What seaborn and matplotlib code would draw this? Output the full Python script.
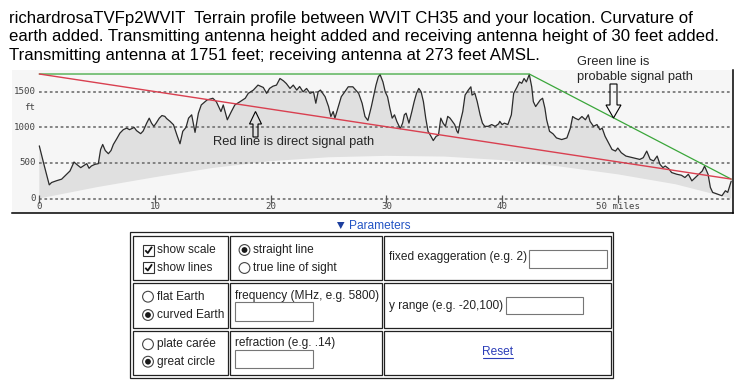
import numpy as np
import pandas as pd
import matplotlib
matplotlib.use("Agg")
import matplotlib.pyplot as plt
import seaborn as sns
from matplotlib.patches import Rectangle, Circle, Polygon

# ---------------- data ----------------
miles = [0.0, 0.4, 0.86, 1.06, 1.49, 1.93, 2.37, 2.65, 3.0, 3.23, 3.58, 3.8, 4.1, 4.3, 4.5, 4.8,
         5.1, 5.3, 5.48, 5.7, 5.97, 6.2, 6.4, 6.7, 6.97, 7.26, 7.55, 7.8, 8.2, 8.4, 8.76, 8.98,
         9.28, 9.5, 9.7, 9.9, 10.1, 10.37, 10.6, 10.85, 11.0, 11.3, 11.6, 11.9, 12.16, 12.4,
         12.68, 12.9, 13.17, 13.46, 13.75, 14.0, 14.5, 15.0, 15.3, 15.7, 15.9, 16.25, 16.6,
         16.9, 17.35, 17.8, 18.06, 18.5, 18.9, 19.36, 19.65, 19.9, 20.2, 20.5, 20.8, 21.1,
         21.35, 21.67, 21.95, 22.25, 22.5, 22.8, 23.1, 23.4, 23.7, 23.9, 24.1, 24.3, 24.7,
         25.0, 25.2, 25.4, 25.55, 25.85, 26.1, 26.4, 26.7, 27.1, 27.6, 27.9, 28.15, 28.4,
         28.7, 29.1, 29.3, 29.45, 29.7, 29.9, 30.1, 30.3, 30.5, 30.7, 30.9, 31.2, 31.4,
         31.55, 31.7, 31.95, 32.2, 32.4, 32.6, 32.8, 33.0, 33.2, 33.4, 33.6, 33.8, 34.05,
         34.3, 34.5, 34.7, 34.9, 35.1, 35.3, 35.5, 35.7, 35.9, 36.1, 36.2, 36.36, 36.6,
         36.8, 37.08, 37.3, 37.4, 37.65, 37.85, 38.1, 38.3, 38.5, 38.8, 39.1, 39.4, 39.7,
         39.8, 40.0, 40.2, 40.5, 40.8, 41.0, 41.3, 41.5, 41.7, 41.9, 42.1, 42.35, 42.56,
         42.7, 42.9, 43.1, 43.3, 43.5, 43.7, 43.85, 44.1, 44.4, 44.7, 45.15, 45.6, 45.9,
         46.1, 46.3, 46.6, 46.9, 47.2, 47.45, 47.6, 47.9, 48.2, 48.45, 48.65, 48.9, 49.2,
         49.5, 49.8, 50.0, 50.3, 50.7, 51.3, 51.9, 52.2, 52.5, 52.8, 53.1, 53.4, 53.65,
         53.9, 54.1, 54.4, 54.65, 55.1, 55.5, 55.8, 56.1, 56.4, 56.7, 57.0, 57.3, 57.5,
         57.8, 58.0, 58.2, 58.6, 59.0, 59.3, 59.5, 59.8]
elevation_ft = [740, 480, 192, 225, 250, 272, 341, 387, 513, 480, 434, 457, 490, 425, 457, 480,
                490, 690, 760, 675, 630, 675, 760, 842, 920, 968, 990, 968, 1000, 955, 912, 950,
                1060, 1130, 1060, 1015, 1060, 1130, 1167, 1155, 1125, 1085, 1037, 890, 770, 945,
                1000, 1130, 1177, 930, 1200, 1316, 1386, 1410, 1362, 1223, 1316, 1107, 1223,
                1316, 1362, 1410, 1479, 1525, 1595, 1562, 1479, 1548, 1580, 1595, 1688, 1655,
                1617, 1548, 1595, 1525, 1575, 1500, 1548, 1479, 1500, 1340, 1500, 1525, 1432,
                1293, 1153, 1223, 1130, 1293, 1432, 1500, 1571, 1571, 1479, 1340, 1153, 1098,
                1293, 1595, 1710, 1745, 1640, 1500, 1430, 1270, 1130, 1177, 1085, 982, 1060,
                1177, 1200, 1060, 1223, 1362, 1479, 1548, 1500, 1362, 1130, 945, 890, 815,
                875, 890, 1130, 1060, 1015, 1155, 1130, 1085, 1040, 945, 920, 1060, 1223,
                1455, 1525, 1571, 1455, 1479, 1362, 1177, 1060, 1015, 1015, 1040, 1015, 1050,
                1085, 1040, 1060, 1040, 1177, 1479, 1571, 1640, 1620, 1688, 1640, 1745, 1571,
                1362, 1293, 1340, 1386, 1410, 1270, 1107, 945, 910, 852, 829, 852, 990,
                1153, 1130, 1107, 1153, 1107, 1177, 1085, 1015, 1040, 968, 990, 875, 783,
                690, 667, 710, 644, 597, 574, 550, 574, 667, 550, 528, 597, 480,
                434, 457, 420, 365, 341, 327, 295, 341, 248, 295, 341, 387, 455,
                341, 156, 86, 63, 39, 109, 86, 243]

curve_miles = [0, 5, 10, 15, 20, 25, 30, 35, 40, 45, 50, 55, 59.8]
curve_ft = [0, 160, 300, 430, 525, 580, 600, 590, 540, 450, 340, 200, 0]

direct_miles = [0, 59.8]
direct_ft = [1751, 273]
probable_miles = [0, 29.45, 42.35, 59.8]
probable_ft = [1751, 1751, 1751, 273]

x_ticks = [0, 10, 20, 30, 40, 50]
x_tick_labels = ["0", "10", "20", "30", "40", "50 miles"]
y_ticks = [0, 500, 1000, 1500]
y_tick_labels = ["0", "500", "1000", "1500"]

title_lines = [
    "richardrosaTVFp2WVIT  Terrain profile between WVIT CH35 and your location. Curvature of",
    "earth added. Transmitting antenna height added and receiving antenna height of 30 feet added.",
    "Transmitting antenna at 1751 feet; receiving antenna at 273 feet AMSL.",
]

terrain = pd.DataFrame({"miles": miles, "ft": elevation_ft})
direct = pd.DataFrame({"miles": direct_miles, "ft": direct_ft})
probable = pd.DataFrame({"miles": probable_miles, "ft": probable_ft})

# ---------------- figure ----------------
sns.set_style("white")
plt.rcParams["font.family"] = ["Liberation Sans", "DejaVu Sans"]

W, H = 747, 391
fig = plt.figure(figsize=(W / 100, H / 100), dpi=100)
fig.patch.set_facecolor("white")

PXM = 11.57      # px per mile
X0 = 39.3        # px of mile 0
Y0 = 198.5       # px of 0 ft
PXF = 0.0711     # px per ft
L, R, T, B = 12, 733, 70, 213
ax = fig.add_axes([L / W, 1 - B / H, (R - L) / W, (B - T) / H])
ax.set_xlim((L - X0) / PXM, (R - X0) / PXM)
ax.set_ylim((Y0 - B) / PXF, (Y0 - T) / PXF)
ax.set_facecolor("#f6f6f6")
for s in ["left", "top"]:
    ax.spines[s].set_visible(False)
for s in ["bottom", "right"]:
    ax.spines[s].set_color("black")
    ax.spines[s].set_linewidth(1.1)
ax.set_xticks([])
ax.set_yticks([])

# terrain fill between earth curve and terrain
poly_x = np.concatenate([np.array(miles), np.array(curve_miles)[::-1]])
poly_y = np.concatenate([np.array(elevation_ft), np.array(curve_ft)[::-1]])
ax.fill(poly_x, poly_y, color="#e0e0e0", lw=0, zorder=1)

# dashed grid
ax.hlines(y_ticks, 0, miles[-1], colors="#7a7a7a", linewidth=1.3,
          linestyles=(0, (1.5, 1.5)), zorder=2)
# x tick marks
ax.scatter(x_ticks, [0] * len(x_ticks), marker="|", s=40, color="#555555",
           linewidths=0.9, zorder=3)

sns.lineplot(data=terrain, x="miles", y="ft", ax=ax, color="#2b2b2b",
             linewidth=0.9, zorder=4, sort=False)
sns.lineplot(data=probable, x="miles", y="ft", ax=ax, color="#3aa63a",
             linewidth=0.9, zorder=5, sort=False)
sns.lineplot(data=direct, x="miles", y="ft", ax=ax, color="#d94050",
             linewidth=1.0, zorder=6, sort=False)
ax.set_xlabel("")
ax.set_ylabel("")

mono = "DejaVu Sans Mono"
for xt, lab in zip(x_ticks, x_tick_labels):
    ax.annotate(lab, (xt, 0), xytext=(0, -7.5), textcoords="offset pixels",
                ha="center", va="center", fontsize=6.6, family=mono, color="#444444")
for yt, lab in zip(y_ticks, y_tick_labels):
    ax.annotate(lab, (0, yt), xytext=(-3, 0), textcoords="offset pixels",
                ha="right", va="center", fontsize=6.6, family=mono, color="#444444")
ax.annotate("ft", (0, 1500), xytext=(-10, -16), textcoords="offset pixels",
            ha="center", va="center", fontsize=6.6, family=mono, color="#444444")

# ---------------- overlay in pixel coordinates ----------------
ov = fig.add_axes([0, 0, 1, 1], zorder=10)
ov.set_xlim(0, W)
ov.set_ylim(H, 0)
ov.axis("off")
ov.patch.set_alpha(0)

for i, line in enumerate(title_lines):
    ov.text(9, 18.5 + i * 18.5, line, fontsize=12.1, ha="left", va="center", color="black")

ov.text(213, 141.5, "Red line is direct signal path", fontsize=9.3, ha="left", va="center")
ov.text(577, 62, "Green line is", fontsize=9.3, ha="left", va="center")
ov.text(577, 77, "probable signal path", fontsize=9.3, ha="left", va="center")

# hollow arrows
up = [(255.5, 111.5), (261.5, 124), (258, 124), (258, 137), (253, 137), (253, 124), (249.5, 124)]
ov.add_patch(Polygon(up, closed=True, fill=False, edgecolor="black", lw=0.8))
down = [(613.5, 118), (621, 105), (617, 105), (617, 84), (610, 84), (610, 105), (606, 105)]
ov.add_patch(Polygon(down, closed=True, fill=False, edgecolor="black", lw=0.8))

# Parameters header
ov.add_patch(Polygon([(337, 222), (344.5, 222), (340.75, 229)], closed=True,
                     facecolor="#1d3f9e", edgecolor="none"))
ov.text(348.5, 226, "Parameters", fontsize=8.6, color="#2254c4", ha="left", va="center")

# table
edge = "#222222"
ov.add_patch(Rectangle((130, 232), 483, 145.5, fill=False, edgecolor=edge, lw=0.9))
cols = [(133, 227.5), (230, 381.5), (384, 611)]
rows = [(235.5, 280), (283.3, 327.7), (330.5, 374.5)]
for (x1, x2) in cols:
    for (y1, y2) in rows:
        ov.add_patch(Rectangle((x1, y1), x2 - x1, y2 - y1, fill=False, edgecolor=edge, lw=0.9))

txt = dict(fontsize=8.6, color="#222222", ha="left", va="center")


def checkbox(x, y):
    ov.add_patch(Rectangle((x, y - 5.5), 11, 11, facecolor="white", edgecolor="#333333", lw=0.8))
    ov.plot([x + 2.3, x + 4.8, x + 9.0], [y + 0.3, y + 3.0, y - 3.2], color="#111111", lw=1.3,
            solid_capstyle="butt")


def radio(cx, cy, on):
    ov.add_patch(Circle((cx, cy), 5.4, facecolor="white", edgecolor="#444444", lw=0.8))
    if on:
        ov.add_patch(Circle((cx, cy), 2.9, facecolor="#1a1a1a", edgecolor="none"))


def inputbox(x1, y1, x2, y2):
    ov.add_patch(Rectangle((x1, y1), x2 - x1, y2 - y1, facecolor="white", edgecolor="#767676", lw=0.8))


checkbox(143, 250)
ov.text(157, 250, "show scale", **txt)
checkbox(143, 267.5)
ov.text(157, 268, "show lines", **txt)

radio(244.5, 250, True)
ov.text(253.3, 250, "straight line", **txt)
radio(244.5, 268, False)
ov.text(253.3, 268, "true line of sight", **txt)

ov.text(389, 257, "fixed exaggeration (e.g. 2)", **txt)
inputbox(529.3, 250, 606.7, 268)

radio(148, 296.7, False)
ov.text(157, 296.7, "flat Earth", **txt)
radio(148, 315, True)
ov.text(157, 315, "curved Earth", **txt)

ov.text(235, 296, "frequency (MHz, e.g. 5800)", **txt)
inputbox(235, 302, 312.7, 320.7)

ov.text(389.3, 305.7, "y range (e.g. -20,100)", **txt)
inputbox(506, 296.7, 582.7, 314.3)

radio(148, 344.3, False)
ov.text(157, 344.3, "plate carée", **txt)
radio(148, 361.7, True)
ov.text(157, 361.7, "great circle", **txt)

ov.text(235, 342.7, "refraction (e.g. .14)", **txt)
inputbox(235, 350, 312.7, 368.3)

ov.text(498, 351.7, "Reset", fontsize=8.6, color="#2a3cb8", ha="center", va="center")
ov.plot([483, 513], [357.8, 357.8], color="#2a3cb8", lw=0.8)

fig.savefig("out.png", dpi=100, facecolor="white")
